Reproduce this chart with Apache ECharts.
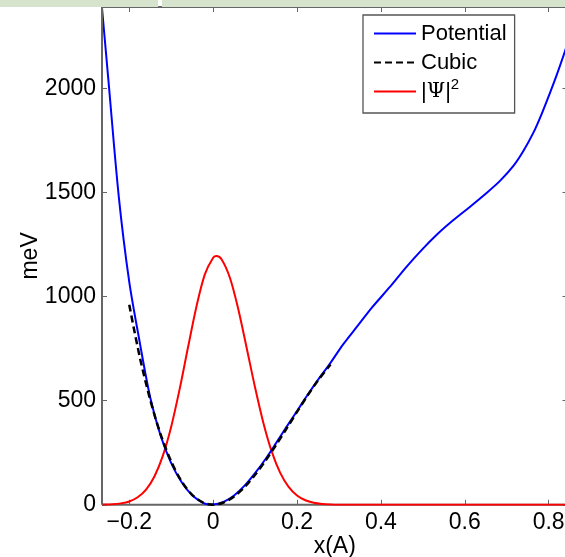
<!DOCTYPE html>
<html>
<head>
<meta charset="utf-8">
<script src="https://cdn.jsdelivr.net/npm/echarts@6/dist/echarts.min.js"></script>
<style>html,body{margin:0;padding:0;background:#fff}#c{width:565px;height:557px}</style>
</head>
<body>
<div id="c"></div>
<script>
// ---- data ----
const potX = [-0.265,-0.25,-0.225,-0.2,-0.175,-0.15,-0.125,-0.1,-0.075,-0.05,-0.025,-0.01,0,0.025,0.05,0.075,0.1,0.125,0.15,0.175,0.2,0.225,0.25,0.279,0.31,0.343,0.38,0.422,0.46,0.497,0.535,0.573,0.612,0.652,0.684,0.716,0.739,0.764,0.782,0.803,0.82,0.839,0.845];
const potY = [2385,2045,1480,1070,780,515,330,200,108,46,11,2,2,14,45,92,152,220,296,374,450,527,600,679,770,855,950,1047,1140,1223,1300,1367,1430,1497,1555,1627,1696,1788,1870,1977,2068,2178,2215];
const cubX = [-0.2,-0.175,-0.15,-0.125,-0.1,-0.075,-0.05,-0.025,0,0.025,0.05,0.075,0.1,0.125,0.15,0.175,0.2,0.225,0.25,0.28];
const cubY = [960,710,504,337,208,112,48,12,0,11,40,85,144,212,287,366,446,524,597,674];
const psiX = [-0.265,-0.26,-0.24,-0.22,-0.2,-0.18,-0.16,-0.14,-0.12,-0.1,-0.08,-0.06,-0.04,-0.02,0,0.008,0.02,0.04,0.06,0.08,0.1,0.12,0.14,0.16,0.18,0.2,0.22,0.24,0.26,0.28,0.3,0.34,0.4,0.5,0.6,0.7,0.8,0.845];
const psiY = [0.7,1,2.7,6.9,16,36,73,136,235,375,554,755,950,1105,1186,1194,1179,1090,939,753,563,392,254,153,86,45,22,10,4.2,1.7,0.6,0.1,0,0,0,0,0,0];
const xTicks = [-0.2,0,0.2,0.4,0.6,0.8];
const yTicks = [0,500,1000,1500,2000];
const seriesNames = ['Potential','Cubic','|Ψ|2'];
const xRange = [-0.265, 0.845];
const yRange = [0, 2390];

const pair = (xs, ys) => xs.map((x, i) => [x, ys[i]]);
const FONT = 'Liberation Sans';
const AX = '#666666';
const fmtX = v => { const r = Math.round(v * 10) / 10; return r === 0 ? '0' : String(r).replace('-', '\u2212'); };
const fmtY = v => String(Math.round(v));

const chart = echarts.init(document.getElementById('c'), null, {renderer: 'canvas'});
const gridBox = {
  left: 102, top: 7, width: 465.5, height: 497.8,
  outerBoundsMode: 'none', containLabel: false
};
const axLine = () => ({show: false, onZero: false});
const axTick = vals => ({show: true, inside: true, length: 5, customValues: vals, lineStyle: {color: AX, width: 1}});

chart.setOption({
  animation: false,
  backgroundColor: '#fff',
  grid: gridBox,
  xAxis: [
    {
      type: 'value', min: xRange[0], max: xRange[1], position: 'bottom',
      splitLine: {show: false}, axisLine: axLine(), axisTick: axTick(xTicks),
      name: 'x(A)', nameLocation: 'middle', nameGap: 30, nameMoveOverlap: false,
      nameTextStyle: {fontFamily: FONT, fontSize: 23, color: '#000'},
      axisLabel: {show: true, customValues: xTicks, formatter: fmtX, fontFamily: FONT, fontSize: 23, color: '#000', margin: 6}
    },
    {
      type: 'value', min: xRange[0], max: xRange[1], position: 'top',
      splitLine: {show: false}, axisLine: axLine(), axisTick: axTick(xTicks),
      axisLabel: {show: false}
    }
  ],
  yAxis: [
    {
      type: 'value', min: yRange[0], max: yRange[1], position: 'left',
      splitLine: {show: false}, axisLine: axLine(), axisTick: axTick(yTicks),
      name: 'meV', nameLocation: 'middle', nameGap: 60, nameMoveOverlap: false,
      nameTextStyle: {fontFamily: FONT, fontSize: 23, color: '#000'},
      axisLabel: {show: true, customValues: yTicks, formatter: fmtY, fontFamily: FONT, fontSize: 23, color: '#000', margin: 6}
    },
    {
      type: 'value', min: yRange[0], max: yRange[1], position: 'right',
      splitLine: {show: false}, axisLine: axLine(), axisTick: axTick(yTicks),
      axisLabel: {show: false}
    }
  ],
  legend: {
    orient: 'vertical', left: 363, top: 15,
    padding: [4, 8, 7, 10],
    itemWidth: 42, itemHeight: 14, itemGap: 0,
    backgroundColor: '#fff', borderColor: '#555', borderWidth: 1.3, borderRadius: 0,
    data: seriesNames,
    itemStyle: {opacity: 0},
    formatter: n => n === '|Ψ|2' ? '|{psi|Ψ}|{sup|2}' : n,
    textStyle: {
      fontFamily: FONT, fontSize: 22, color: '#000', lineHeight: 29,
      rich: {
        psi: {fontFamily: 'DejaVu Serif', fontSize: 21, color: '#000', lineHeight: 29},
        sup: {fontFamily: FONT, fontSize: 15, color: '#000', lineHeight: 16, verticalAlign: 'top'}
      }
    }
  },
  series: [
    {name: seriesNames[0], type: 'line', data: pair(potX, potY), symbol: 'none', smooth: 0.3,
     lineStyle: {color: '#0000ff', width: 2}, itemStyle: {color: '#0000ff'}, z: 3},
    {name: seriesNames[1], type: 'line', data: pair(cubX, cubY), symbol: 'none', smooth: 0.3,
     lineStyle: {color: '#000', width: 2.5, type: [7, 4]}, itemStyle: {color: '#000'}, z: 4},
    {name: seriesNames[2], type: 'line', data: pair(psiX, psiY), symbol: 'none', smooth: 0.3,
     lineStyle: {color: '#ff0000', width: 2}, itemStyle: {color: '#ff0000'}, z: 2}
  ]
});

// plot frame (box) through the library's own coordinate conversion
const P = v => chart.convertToPixel({xAxisIndex: 0, yAxisIndex: 0}, v);
const bl = P([xRange[0], yRange[0]]), tl = P([xRange[0], yRange[1]]);
const br = P([xRange[1], yRange[0]]), tr = P([xRange[1], yRange[1]]);
const frameLine = (a, b, z) => ({type: 'line', z: z, silent: true,
  shape: {x1: a[0], y1: a[1], x2: b[0], y2: b[1]}, style: {stroke: AX, lineWidth: 2}});
chart.setOption({
  graphic: [
    frameLine(bl, tl, 50), frameLine(bl, br, 1), frameLine(tl, tr, 50), frameLine(br, tr, 50),
    {type: 'rect', shape: {x: 0, y: 0, width: 158, height: 7}, style: {fill: '#d6e4cd'}, z: 100},
    {type: 'rect', shape: {x: 162, y: 0, width: 403, height: 7}, style: {fill: '#d6e4cd'}, z: 100}
  ]
});
</script>
</body>
</html>
